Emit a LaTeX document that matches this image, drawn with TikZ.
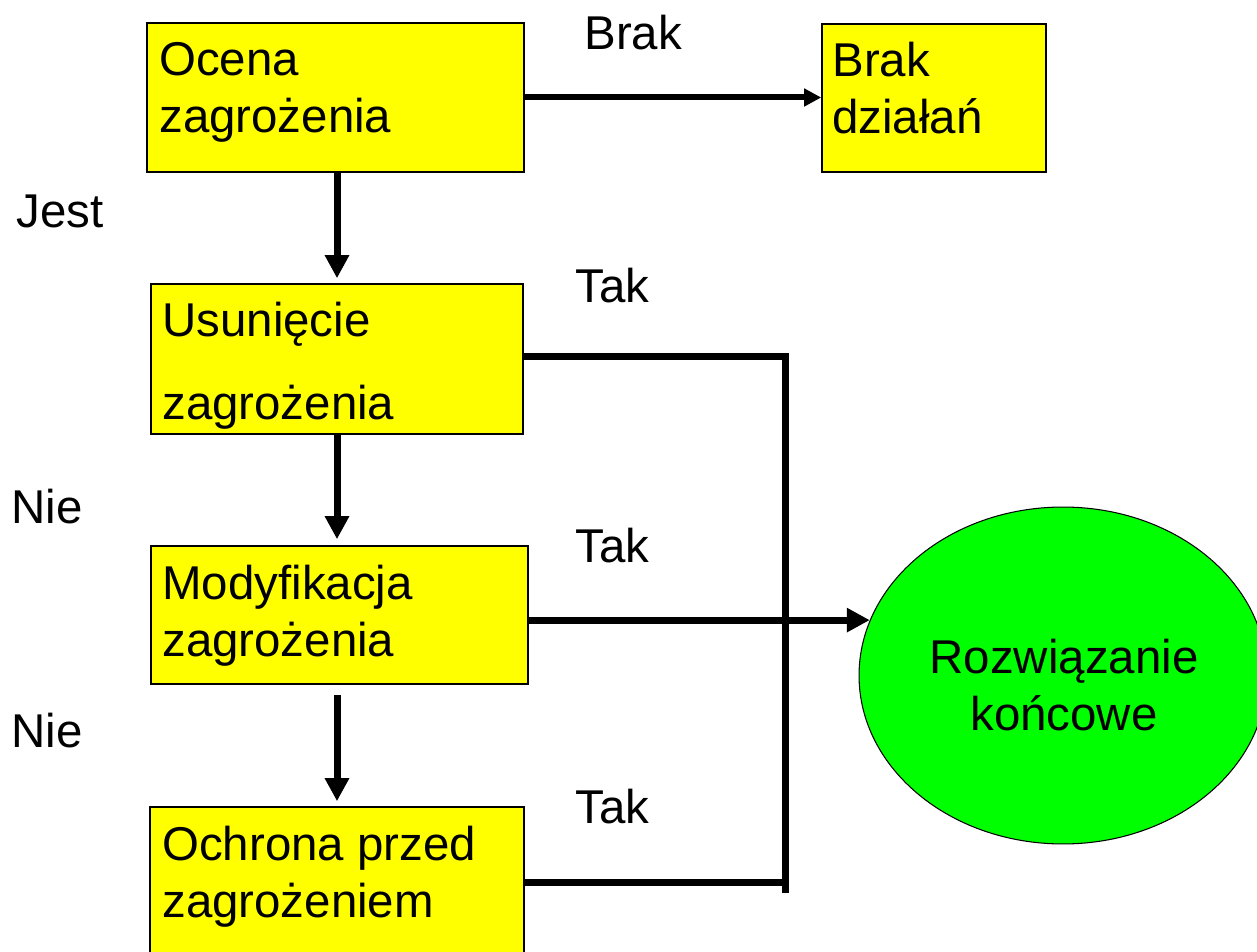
\documentclass[tikz,border=0pt]{standalone}
\usepackage{fontspec}
\setmainfont{Liberation Sans}
\usetikzlibrary{arrows.meta,shapes.geometric}
\definecolor{boxyellow}{HTML}{FFFF00}
\definecolor{endgreen}{HTML}{00FF00}
\begin{document}
\begin{tikzpicture}[x=0.02cm,y=-0.02cm,
  box/.style={draw=black, line width=0.9pt, fill=boxyellow, rectangle, inner sep=0pt},
  txt/.style={anchor=base west, inner sep=0pt, font=\fontsize{27}{32}\selectfont},
  ctxt/.style={anchor=base, inner sep=0pt, font=\fontsize{27}{32}\selectfont},
  conn/.style={line width=0.14cm},
  varrow/.style={conn, -{Triangle[length=0.46cm,width=0.46cm]}},
  harrow/.style={line width=0.12cm, -{Triangle[length=0.34cm,width=0.34cm]}},
]
\useasboundingbox (0,0) rectangle (1257,952);
\fill[white] (0,0) rectangle (1257,952);
\clip (0,0) rectangle (1257,952);

% boxes
\node[box, minimum width=7.54cm, minimum height=2.98cm] (ocena) at (335.5,97.5) {};
\node[box, minimum width=4.48cm, minimum height=2.96cm] (brak) at (934,98) {};
\node[box, minimum width=7.44cm, minimum height=3.0cm] (usun) at (337,359) {};
\node[box, minimum width=7.54cm, minimum height=2.76cm] (mod) at (339.5,615) {};
\node[box, minimum width=7.48cm, minimum height=3.26cm] (och) at (337,888.5) {};
\node[ellipse, draw=black, line width=0.6pt, fill=endgreen, minimum width=8.16cm, minimum height=6.74cm, inner sep=0pt] (roz) at (1063,675.5) {};

% box texts
\node[txt] (ocenaA) at (159,76) {Ocena};
\node[txt] (ocenaB) at (159,133) {zagrożenia};
\node[txt] (brakA) at (832,77) {Brak};
\node[txt] (brakB) at (832,134) {działań};
\node[txt] (usunA) at (162,337) {Usunięcie};
\node[txt] (usunB) at (162,420) {zagrożenia};
\node[txt] (modA) at (162,599) {Modyfikacja};
\node[txt] (modB) at (162,656) {zagrożenia};
\node[txt] (ochA) at (162,860) {Ochrona przed};
\node[txt] (ochB) at (162,917) {zagrożeniem};
\node[ctxt] (rozA) at (1064,673) {Rozwiązanie};
\node[ctxt] (rozB) at (1064,730) {końcowe};

% labels
\node[txt] (lBrak) at (584,50) {Brak};
\node[txt] (lJest) at (16,228) {Jest};
\node[txt] (lTak1) at (575,303) {Tak};
\node[txt] (lNie1) at (11,523) {Nie};
\node[txt] (lTak2) at (575,562) {Tak};
\node[txt] (lNie2) at (11,747) {Nie};
\node[txt] (lTak3) at (575,823) {Tak};

% connectors
\coordinate (busTop) at (785,357);
\coordinate (busBot) at (785,893);
\coordinate (busOch) at (785,882);

\draw[harrow] (ocena.east) -- (ocena.east -| brak.west);
\draw[varrow, shorten >=0.1cm] (usun.north |- ocena.south) -- (usun.north);
\draw[varrow, shorten >=0.12cm] (usun.south) -- (usun.south |- mod.north);
\draw[varrow, shorten <=0.2cm, shorten >=0.1cm] (och.north |- mod.south) -- (och.north);
\draw[conn] (usun.east |- busTop) -- (busTop) -- (busBot);
\draw[conn] (och.east |- busOch) -- (busOch);
\draw[varrow] (mod.east |- roz.164) -- (roz.164);
\end{tikzpicture}
\end{document}
